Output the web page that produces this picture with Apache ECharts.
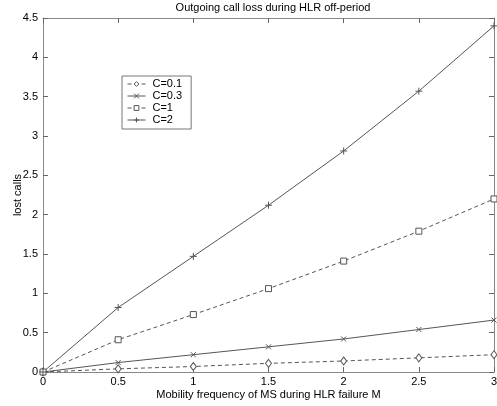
<!DOCTYPE html>
<html><head><meta charset="utf-8">
<script src="https://cdn.jsdelivr.net/npm/echarts@6/dist/echarts.min.js"></script>
<style>html,body{margin:0;padding:0;background:#fff}#c{width:497px;height:406px}</style>
</head><body><div id="c"></div>
<script>
const xValues = [0, 0.5, 1, 1.5, 2, 2.5, 3];
const c01 = [0, 0.04, 0.07, 0.11, 0.14, 0.18, 0.22];
const c03 = [0, 0.12, 0.22, 0.32, 0.42, 0.54, 0.66];
const c1 = [0, 0.41, 0.73, 1.06, 1.41, 1.79, 2.2];
const c2 = [0, 0.82, 1.47, 2.12, 2.81, 3.57, 4.4];
const seriesNames = ['C=0.1', 'C=0.3', 'C=1', 'C=2'];

const LC = '#555';
const FONT = 'Liberation Sans';
const xPath = 'path://M0,0L10,10M10,0L0,10';
const plusPath = 'path://M5,0L5,10M0,5L10,5';

function mk(name, vals, symbol, size, dashed) {
  return {
    name: name, type: 'line',
    data: xValues.map((x, i) => [x, vals[i]]),
    symbol: symbol, symbolSize: size,
    lineStyle: {color: LC, width: 1, type: dashed ? [4, 3] : 'solid'},
    itemStyle: {color: '#fff', borderColor: LC, borderWidth: 1},
    emphasis: {disabled: true},
    animation: false
  };
}

const chart = echarts.init(document.getElementById('c'));
const axisCommon = {
  type: 'value', min: 0,
  axisLine: {show: true, onZero: false, lineStyle: {color: '#888'}},
  axisTick: {show: true, inside: true, length: 5, lineStyle: {color: '#666'}},
  splitLine: {show: false}
};
chart.setOption({
  backgroundColor: '#fff',
  animation: false,
  title: {text: 'Outgoing call loss during HLR off-period', left: 268, top: -3, textAlign: 'center',
    textStyle: {fontFamily: FONT, fontSize: 11, fontWeight: 'normal', color: '#000'}},
  grid: {left: 43, right: 3, top: 18, bottom: 34, show: false, containLabel: false, outerBoundsMode: 'none'},
  legend: {
    left: 122, top: 76, orient: 'vertical', itemGap: 0, itemWidth: 18, itemHeight: 6,
    padding: [2, 9, 3, 5],
    borderColor: '#777', borderWidth: 1, backgroundColor: '#fff',
    textStyle: {fontFamily: FONT, fontSize: 11, color: '#000', lineHeight: 12, padding: [0, 0, 0, 2]},
    data: seriesNames.map(n => ({name: n, lineStyle: {width: 1}, itemStyle: {borderWidth: 1}}))
  },
  xAxis: [
    Object.assign({}, axisCommon, {max: 3, interval: 0.5, position: 'bottom',
      name: 'Mobility frequency of MS during HLR failure M', nameLocation: 'middle', nameGap: 17,
      nameMoveOverlap: false,
      nameTextStyle: {fontFamily: FONT, fontSize: 11, color: '#000'},
      axisLabel: {fontFamily: FONT, fontSize: 11, color: '#000', margin: 4}}),
    Object.assign({}, axisCommon, {max: 3, interval: 0.5, position: 'top', axisLabel: {show: false}})
  ],
  yAxis: [
    Object.assign({}, axisCommon, {max: 4.5, interval: 0.5, position: 'left',
      name: 'lost calls', nameLocation: 'middle', nameGap: 20, nameMoveOverlap: false,
      nameTextStyle: {fontFamily: FONT, fontSize: 11, color: '#000'},
      axisLabel: {fontFamily: FONT, fontSize: 11, color: '#000', margin: 5}}),
    Object.assign({}, axisCommon, {max: 4.5, interval: 0.5, position: 'right', axisLabel: {show: false}})
  ],
  series: [
    mk(seriesNames[0], c01, 'diamond', [6, 8], true),
    mk(seriesNames[1], c03, xPath, 5, false),
    mk(seriesNames[2], c1, 'rect', 6, true),
    mk(seriesNames[3], c2, plusPath, 7, false)
  ]
});
</script></body></html>
